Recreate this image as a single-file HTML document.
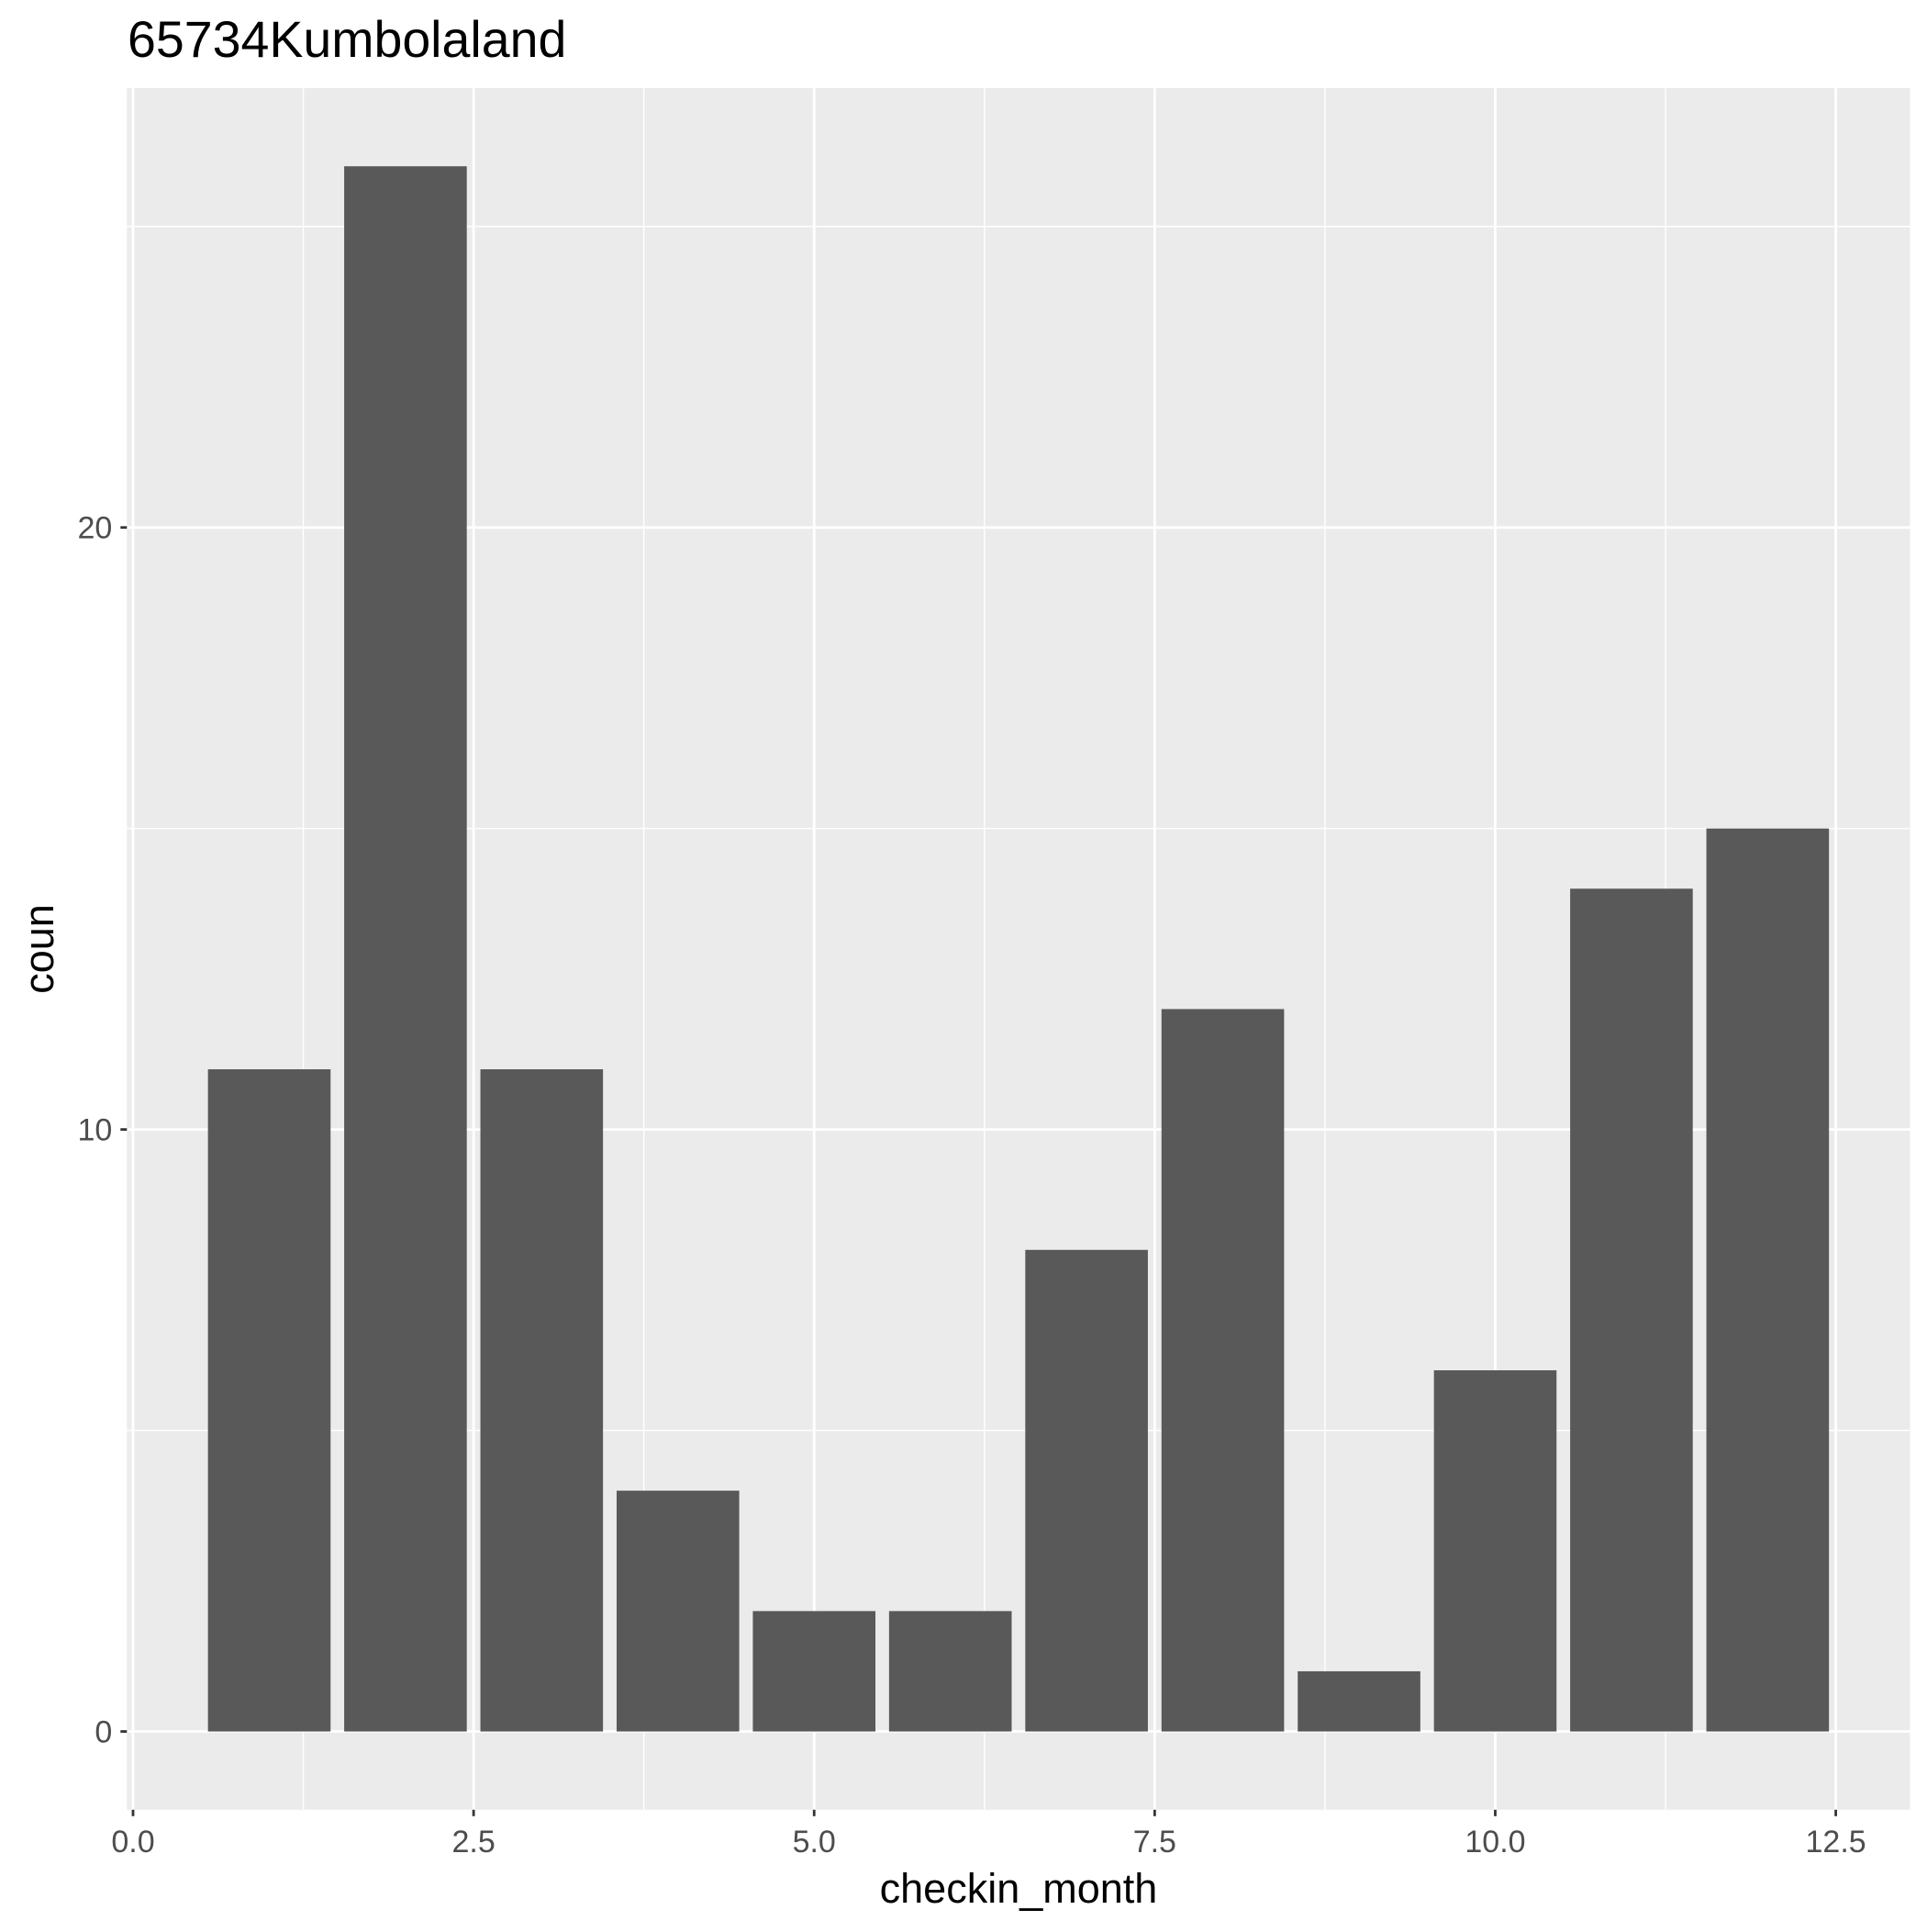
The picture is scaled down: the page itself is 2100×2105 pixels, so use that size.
<!DOCTYPE html>
<html><head><meta charset="utf-8"><style>
html,body{margin:0;padding:0;background:#fff;}
svg text{font-family:"Liberation Sans",Arial,sans-serif;}
</style></head><body>
<svg id="chart" width="2100" height="2100" viewBox="0 0 2100 2100" xmlns="http://www.w3.org/2000/svg">
<rect x="0" y="0" width="2100" height="2100" fill="#fff"/>
<g id="panel"></g>
<text x="139" y="62" font-size="55.5" fill="#000">65734Kumbolaland</text>
<text id="xtitle" x="1110" y="2073" font-size="45" text-anchor="middle" fill="#000">checkin_month</text>
<text x="0" y="0" font-size="45" text-anchor="middle" fill="#000" transform="translate(58,1034) rotate(-90)">coun</text>
</svg>
<script>
const months = [1,2,3,4,5,6,7,8,9,10,11,12];
const counts = [11,26,11,4,2,2,8,12,1,6,14,15];
const xTicks = [0,2.5,5,7.5,10,12.5];
const xTickLabels = ["0.0","2.5","5.0","7.5","10.0","12.5"];
const yTicks = [0,10,20];
const yTickLabels = ["0","10","20"];

const NS="http://www.w3.org/2000/svg";
const svg=document.getElementById('chart');
const g=document.getElementById('panel');
const L=138.3,R=2081.5,T=95.9,B=1971.8;
const xmin=-0.045,xmax=13.045,ymin=-1.3,ymax=27.3;
const xs=v=>L+(v-xmin)/(xmax-xmin)*(R-L);
const ys=v=>B-(v-ymin)/(ymax-ymin)*(B-T);
function el(tag,attrs,parent){const e=document.createElementNS(NS,tag);for(const k in attrs)e.setAttribute(k,attrs[k]);(parent||g).appendChild(e);return e;}
const bg=el('rect',{x:L,y:T,width:R-L,height:B-T,fill:'#EBEBEB'});


for(let i=0;i<xTicks.length-1;i++){const m=(xTicks[i]+xTicks[i+1])/2;const ln=el('line',{x1:xs(m),x2:xs(m),y1:T,y2:B,stroke:'#fff','stroke-width':1.4});

}
for(let i=0;i<yTicks.length;i++){const m=yTicks[i]+5;const ln=el('line',{x1:L,x2:R,y1:ys(m),y2:ys(m),stroke:'#fff','stroke-width':1.4});

}
xTicks.forEach((t,i)=>{const ln=el('line',{x1:xs(t),x2:xs(t),y1:T,y2:B,stroke:'#fff','stroke-width':2.8});


const tk=el('line',{x1:xs(t),x2:xs(t),y1:B,y2:B+7,stroke:'#333','stroke-width':2.8},svg);


const tx=el('text',{x:xs(t),y:B+46,'font-size':34,'text-anchor':'middle',fill:'#4D4D4D'},svg);tx.textContent=xTickLabels[i];

});
yTicks.forEach((t,i)=>{const ln=el('line',{x1:L,x2:R,y1:ys(t),y2:ys(t),stroke:'#fff','stroke-width':2.8});


const tk=el('line',{x1:L-7,x2:L,y1:ys(t),y2:ys(t),stroke:'#333','stroke-width':2.8},svg);


const tx=el('text',{x:L-16,y:ys(t)+12,'font-size':34,'text-anchor':'end',fill:'#4D4D4D'},svg);tx.textContent=yTickLabels[i];

});
months.forEach((m,i)=>{const x0=xs(m-0.45),x1=xs(m+0.45);const r=el('rect',{x:x0,y:ys(counts[i]),width:x1-x0,height:ys(0)-ys(counts[i]),fill:'#595959'});

});
</script>
</body></html>
